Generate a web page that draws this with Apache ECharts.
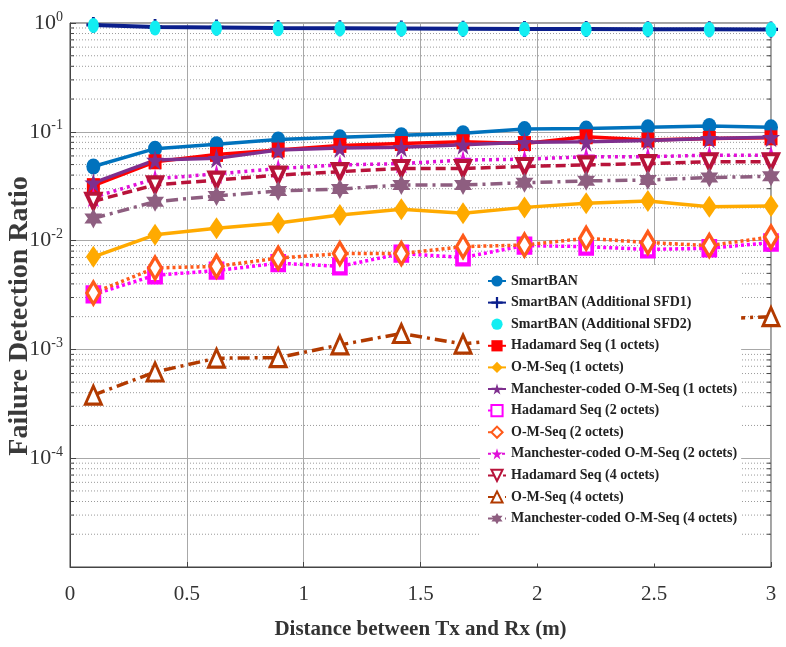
<!DOCTYPE html>
<html>
<head>
<meta charset="utf-8">
<script src="https://cdn.jsdelivr.net/npm/echarts@6/dist/echarts.min.js"></script>
<style>html,body{margin:0;padding:0;background:#fff}#c{width:786px;height:647px}</style>
</head>
<body>
<div id="c"></div>
<script>
const distances = [0.1, 0.364, 0.627, 0.891, 1.155, 1.418, 1.682, 1.945, 2.209, 2.473, 2.736, 3.0];
const smartBAN = [0.048, 0.070, 0.077, 0.085, 0.089, 0.093, 0.097, 0.106, 0.107, 0.110, 0.113, 0.110];
const smartBAN_SFD1 = [0.96, 0.92, 0.91, 0.90, 0.895, 0.89, 0.885, 0.88, 0.88, 0.875, 0.875, 0.872];
const smartBAN_SFD2 = [0.95, 0.90, 0.895, 0.885, 0.885, 0.88, 0.88, 0.875, 0.875, 0.875, 0.87, 0.87];
const hadamard1 = [0.032, 0.053, 0.062, 0.068, 0.075, 0.078, 0.081, 0.078, 0.090, 0.084, 0.087, 0.088];
const omSeq1 = [0.0071, 0.0113, 0.013, 0.0145, 0.0172, 0.0194, 0.0178, 0.0202, 0.022, 0.0231, 0.0205, 0.0208];
const manchester1 = [0.034, 0.055, 0.057, 0.068, 0.071, 0.072, 0.076, 0.080, 0.081, 0.083, 0.087, 0.089];
const hadamard2 = [0.0032, 0.0048, 0.0053, 0.0062, 0.0058, 0.0076, 0.0070, 0.0090, 0.0088, 0.0083, 0.0085, 0.0096];
const omSeq2 = [0.0033, 0.0056, 0.0058, 0.0069, 0.0076, 0.0076, 0.0088, 0.0091, 0.0105, 0.0096, 0.0090, 0.0108];
const manchester2 = [0.025, 0.037, 0.041, 0.046, 0.0496, 0.051, 0.055, 0.056, 0.059, 0.059, 0.061, 0.061];
const hadamard4 = [0.023, 0.0325, 0.036, 0.040, 0.043, 0.046, 0.046, 0.048, 0.0496, 0.051, 0.053, 0.053];
const omSeq4 = [0.00038, 0.00062, 0.00083, 0.00084, 0.0011, 0.0014, 0.00112, 0.0013, 0.0015, 0.0017, 0.0019, 0.0020];
const manchester4 = [0.016, 0.0228, 0.0257, 0.0286, 0.0298, 0.0325, 0.0325, 0.034, 0.0354, 0.036, 0.038, 0.039];
const xTicks = [0, 0.5, 1, 1.5, 2, 2.5, 3];
const xRange = [0, 3];
const minorGridValues = [];
[-5, -4, -3, -2, -1].forEach(function (e) { for (let m = 2; m <= 9; m++) minorGridValues.push(m * Math.pow(10, e)); });

const FONT = '"Liberation Serif", "Times New Roman", serif';
const STAR5 = 'path://M50,0 L61,35 L98,35 L68,57 L79,91 L50,70 L21,91 L32,57 L2,35 L39,35 Z';
const STAR6 = 'path://M50,0 L63,25 L93,25 L76,50 L93,75 L63,75 L50,100 L37,75 L7,75 L24,50 L7,25 L37,25 Z';
const PLUS = 'path://M4,0 L6,0 L6,4 L10,4 L10,6 L6,6 L6,10 L4,10 L4,6 L0,6 L0,4 L4,4 Z';

function pairs(ys) { return distances.map(function (x, i) { return [x, ys[i]]; }); }

function mk(name, ys, color, lineType, symbol, size, opts) {
  opts = opts || {};
  return {
    name: name, type: 'line', data: pairs(ys), z: 3,
    symbol: symbol, symbolSize: size, symbolRotate: opts.rotate || 0,
    showAllSymbol: true,
    lineStyle: opts.noLine ? { width: 0, opacity: 0 } : { color: color, width: opts.width || 3.5, type: lineType },
    itemStyle: opts.hollow ? { color: '#fff', borderColor: color, borderWidth: opts.bw || 2.5 } : { color: color, borderWidth: 0 },
    emphasis: { disabled: true },
    animation: false
  };
}

const minorGridSeries = {
  name: 'minor-grid', type: 'custom', z: 1, silent: true, animation: false, clip: true,
  data: minorGridValues.map(function (v) { return [xRange[0], v]; }),
  encode: { x: 0, y: 1 },
  renderItem: function (params, api) {
    const v = api.value(1);
    const a = api.coord([xRange[0], v]);
    const b = api.coord([xRange[1], v]);
    return {
      type: 'group',
      children: [
        { type: 'line', shape: { x1: a[0], y1: a[1], x2: b[0], y2: b[1] }, style: { stroke: '#9a9a9a', lineWidth: 1, lineDash: [1, 2] } },
        { type: 'line', shape: { x1: a[0], y1: a[1], x2: a[0] + 4, y2: a[1] }, style: { stroke: '#444', lineWidth: 1 } },
        { type: 'line', shape: { x1: b[0] - 4, y1: b[1], x2: b[0], y2: b[1] }, style: { stroke: '#444', lineWidth: 1 } }
      ]
    };
  }
};

const series = [
  mk('SmartBAN', smartBAN, '#0072BD', 'solid', 'circle', [14, 16]),
  mk('SmartBAN (Additional SFD1)', smartBAN_SFD1, '#0B1F8C', 'solid', PLUS, [14, 16], { width: 4 }),
  mk('SmartBAN (Additional SFD2)', smartBAN_SFD2, '#12EEF2', 'solid', 'circle', [11, 15], { noLine: true }),
  mk('Hadamard Seq (1 octets)', hadamard1, '#FF0000', 'solid', 'rect', [13, 15]),
  mk('O-M-Seq (1 octets)', omSeq1, '#FFAA00', 'solid', 'diamond', [15, 22]),
  mk('Manchester-coded O-M-Seq (1 octets)', manchester1, '#7E2F8E', 'solid', STAR5, [18, 20]),
  mk('Hadamard Seq (2 octets)', hadamard2, '#FF00FF', [3, 3], 'rect', [12, 14], { hollow: true, bw: 4 }),
  mk('O-M-Seq (2 octets)', omSeq2, '#FF5A1A', [3, 3], 'diamond', [13, 22], { hollow: true, bw: 3.5 }),
  mk('Manchester-coded O-M-Seq (2 octets)', manchester2, '#E010D8', [3, 4], STAR5, [18, 20]),
  mk('Hadamard Seq (4 octets)', hadamard4, '#B8133A', [10, 5], 'triangle', [14, 15], { rotate: 180, hollow: true, bw: 4 }),
  mk('O-M-Seq (4 octets)', omSeq4, '#B23A00', [12, 5, 3, 5], 'triangle', [16, 18], { hollow: true, bw: 3 }),
  mk('Manchester-coded O-M-Seq (4 octets)', manchester4, '#8E5E80', [12, 5, 3, 5], STAR6, [18, 20])
];

const legendNames = series.map(function (s) { return s.name; });

const chart = echarts.init(document.getElementById('c'), null, { renderer: 'canvas' });
chart.setOption({
  backgroundColor: '#fff',
  animation: false,
  grid: { left: 70, right: 15, top: 23, bottom: 80, outerBoundsMode: 'none', containLabel: false, show: true, borderColor: '#444', borderWidth: 1, backgroundColor: 'transparent' },
  graphic: [{
    type: 'text', x: 20, y: 316, rotation: Math.PI / 2, silent: true,
    style: {
      text: 'Failure Detection Ratio', fill: '#3a3a3a',
      font: 'bold 28px "Liberation Serif", "Times New Roman", serif',
      textAlign: 'center', textVerticalAlign: 'middle'
    }
  }],
  legend: {
    data: legendNames,
    orient: 'vertical', left: 480, top: 265,
    backgroundColor: '#fff', borderWidth: 0,
    padding: [9, 4, 38, 7],
    itemWidth: 18, itemHeight: 14, itemGap: 7.6,
    textStyle: { fontFamily: FONT, fontWeight: 'bold', fontSize: 14, color: '#222' },
    selectedMode: false
  },
  xAxis: {
    type: 'value', min: 0, max: 3, interval: 0.5,
    name: 'Distance between Tx and Rx (m)', nameLocation: 'middle', nameGap: 52,
    nameTextStyle: { fontFamily: FONT, fontWeight: 'bold', fontSize: 21, color: '#333' },
    axisLine: { show: true, lineStyle: { color: '#444', width: 1 } },
    axisTick: { show: true, inside: true, length: 5, lineStyle: { color: '#444' } },
    axisLabel: {
      fontFamily: FONT, fontSize: 21, color: '#333', margin: 17,
      formatter: function (v) { return xTicks.indexOf(v) >= 0 ? String(v) : ''; }
    },
    splitLine: { show: true, lineStyle: { color: '#a8a8a8', width: 1 } }
  },
  yAxis: {
    type: 'log', logBase: 10, min: 1e-5, max: 1,
    axisLine: { show: true, lineStyle: { color: '#444', width: 1 } },
    axisTick: { show: true, inside: true, length: 6, lineStyle: { color: '#444' } },
    axisLabel: {
      margin: 7,
      formatter: function (v) {
        const e = Math.round(Math.log10(v));
        if (e === -5) return '';
        return '{b|10}{s|' + e + '}';
      },
      rich: {
        b: { fontFamily: FONT, fontSize: 22, color: '#333' },
        s: { fontFamily: FONT, fontSize: 14, color: '#333', verticalAlign: 'bottom', padding: [0, 0, 12, 0] }
      }
    },
    splitLine: { show: true, lineStyle: { color: '#a8a8a8', width: 1 } }
  },
  series: [minorGridSeries].concat(series)
});
</script>
</body>
</html>
